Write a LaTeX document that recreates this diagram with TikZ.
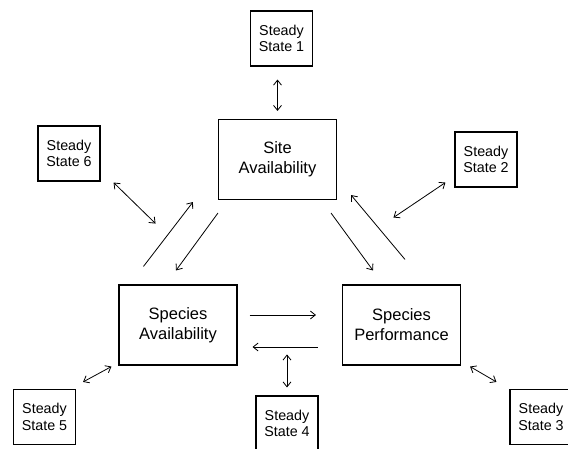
\documentclass[tikz,border=0pt]{standalone}
\usepackage{fontspec}
\setmainfont{Liberation Sans}
\usetikzlibrary{arrows.meta,calc}
\tikzset{
  statebox/.style={draw,line width=1.1pt,minimum width=62pt,minimum height=55pt,
    inner sep=0pt,align=center,font=\fontsize{14.3}{16.7}\selectfont},
  factorbox/.style={draw,line width=1.1pt,minimum width=118pt,minimum height=80pt,
    inner sep=0pt,align=center,font=\fontsize{16.5}{20}\selectfont},
  link/.style={line width=0.8pt,-{Straight Barb[length=5pt,width=8pt]}},
  twoway/.style={line width=0.8pt,{Straight Barb[length=5pt,width=8pt]}-{Straight Barb[length=5pt,width=8pt]}}
}
\begin{document}
\begin{tikzpicture}[x=1pt,y=-1pt]
  \useasboundingbox (0,0) rectangle (568,448);

  % the three factors
  \node[factorbox] (site) at (277.5,159.5) {Site\\Availability};
  \node[factorbox] (spavail) at (178,325) {Species\\Availability};
  \node[factorbox] (spperf) at (401.5,325) {Species\\Performance};

  % steady states
  \node[statebox] (ss1) at (281.5,38.5) {Steady\\State 1};
  \node[statebox] (ss2) at (486,159.5) {Steady\\State 2};
  \node[statebox] (ss3) at (541,417) {Steady\\State 3};
  \node[statebox] (ss4) at (287,423.5) {Steady\\State 4};
  \node[statebox] (ss5) at (44.5,417) {Steady\\State 5};
  \node[statebox] (ss6) at (69,153.5) {Steady\\State 6};

  % links between factors
  \draw[link] ($(spavail.north west)+(25,-18)$) -- ($(site.south west)+(-25,2)$);
  \draw[link] ($(site.south west)+(0,13)$) -- ($(spavail.north)+(-2,-14)$);
  \draw[link] ($(site.south east)+(-6,13)$) -- ($(spperf.north)+(-28.5,-14)$);
  \draw[link] ($(spperf.north)+(3.5,-25)$) -- ($(site.south east)+(14,-5)$);
  \draw[link] ($(spavail.east)+(12,-10)$) -- ($(spperf.west)+(-26,-10)$);
  \draw[link] ($(spperf.west)+(-24,22)$) -- ($(spavail.east)+(15,22)$);

  % links to steady states
  \draw[twoway,shorten <=13pt,shorten >=8pt] (ss1.south -| site.north) -- (site.north);
  \draw[twoway] ($(ss6.south east)+(13,1)$) -- ($(ss6.south east)+(55,42)$);
  \draw[twoway] ($(ss2.south west)+(-9,-5)$) -- ($(ss2.south west)+(-61,30)$);
  \draw[twoway] ($(spperf.south east)+(9,1)$) -- ($(ss3.north west)+(-13,-7)$);
  \draw[twoway] ($(ss4.north)+(0,-41)$) -- ($(ss4.north)+(0,-8)$);
  \draw[twoway] ($(ss5.north east)+(7,-7)$) -- ($(spavail.south west)+(-7,1)$);
\end{tikzpicture}
\end{document}
